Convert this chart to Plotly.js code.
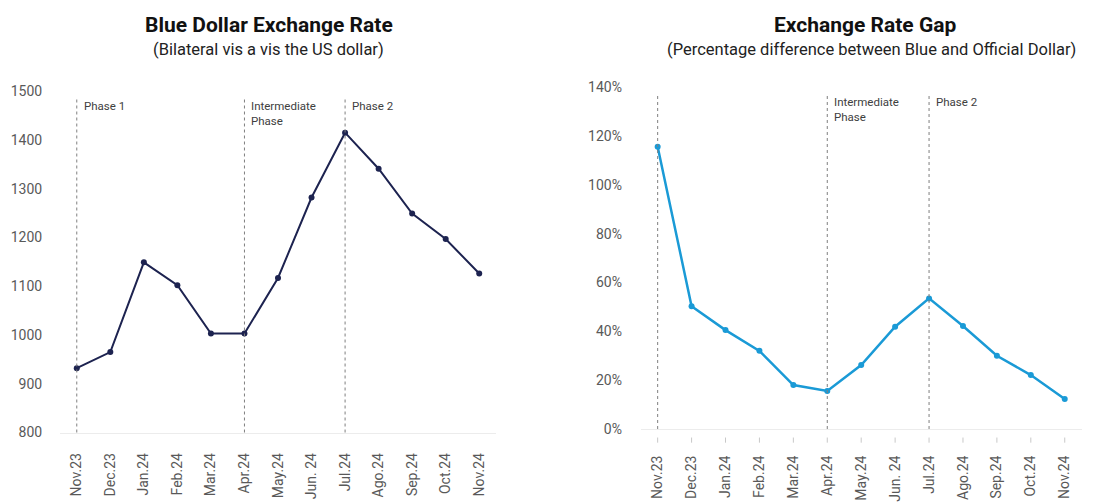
<!DOCTYPE html>
<html>
<head>
<meta charset="utf-8">
<script src="https://cdn.plot.ly/plotly-3.0.1.min.js"></script>
<style>
  html, body { margin: 0; padding: 0; background: #fff; }
  #chart { width: 1110px; height: 504px; }
</style>
</head>
<body>
<div id="chart"></div>
<script>
// Monthly categories shared by both panels
const months = ["Nov.23", "Dec.23", "Jan.24", "Feb.24", "Mar.24", "Apr.24", "May.24",
                "Jun. 24", "Jul.24", "Ago.24", "Sep.24", "Oct.24", "Nov.24"];

// Blue dollar rate (pesos per US dollar)
const blueRate = [932, 965, 1149, 1102, 1003, 1003, 1117, 1282, 1415, 1341, 1249, 1197, 1126];

// Gap between blue and official dollar (fraction)
const rateGap = [1.156, 0.503, 0.405, 0.32, 0.18, 0.156, 0.262, 0.419, 0.535, 0.422, 0.30, 0.221, 0.123];

// Phase boundaries and their labels
const leftPhases = [
  { start: "Nov.23", label: "Phase 1" },
  { start: "Apr.24", label: "Intermediate<br>Phase" },
  { start: "Jul.24", label: "Phase 2" }
];
const rightPhases = [
  { start: "Nov.23", label: "" },
  { start: "Apr.24", label: "Intermediate<br>Phase" },
  { start: "Jul.24", label: "Phase 2" }
];

const leftTicks = [800, 900, 1000, 1100, 1200, 1300, 1400, 1500];
const rightTicks = [0, 0.2, 0.4, 0.6, 0.8, 1.0, 1.2, 1.4];

const FONT = "Roboto, 'Open Sans', sans-serif";
const tickFont = { family: FONT, size: 14, color: "#595959" };

const traces = [
  {
    x: months, y: blueRate, xaxis: "x", yaxis: "y",
    type: "scatter", mode: "lines+markers",
    line: { color: "#1d2350", width: 2 },
    marker: { color: "#1d2350", size: 6 },
    hoverinfo: "x+y"
  },
  {
    x: months, y: rateGap, xaxis: "x2", yaxis: "y2",
    type: "scatter", mode: "lines+markers",
    line: { color: "#1a9ad6", width: 2.5 },
    marker: { color: "#1a9ad6", size: 6 },
    hoverinfo: "x+y"
  }
];

const shapes = [];
const annotations = [];

function addPhases(phases, xref, yref) {
  phases.forEach(p => {
    const idx = months.indexOf(p.start);
    shapes.push({
      type: "line", xref: xref, yref: yref + " domain",
      x0: idx, x1: idx, y0: 0, y1: 0.983,
      line: { color: "#7f7f7f", width: 1, dash: "dot" }
    });
    if (p.label) {
      annotations.push({
        xref: xref, yref: yref + " domain", x: idx, y: 0.983,
        xanchor: "left", yanchor: "top", xshift: 5, showarrow: false, align: "left",
        text: p.label, font: { family: FONT, size: 11.5, color: "#404040" }
      });
    }
  });
}
addPhases(leftPhases, "x", "y");
addPhases(rightPhases, "x2", "y2");

// Small tick marks under the gap panel's axis
months.forEach((m, i) => {
  shapes.push({
    type: "line", xref: "x2", yref: "y2 domain",
    x0: i, x1: i, y0: -0.025, y1: -0.04,
    line: { color: "#c8c8c8", width: 1 }
  });
});

// Panel titles
annotations.push(
  { xref: "paper", yref: "paper", x: 0.242, y: 1 - 25 / 504, xanchor: "center", yanchor: "middle",
    showarrow: false, text: "<b>Blue Dollar Exchange Rate</b>",
    font: { family: FONT, size: 21, color: "#111" } },
  { xref: "paper", yref: "paper", x: 0.242, y: 1 - 50 / 504, xanchor: "center", yanchor: "middle",
    showarrow: false, text: "(Bilateral vis a vis the US dollar)",
    font: { family: FONT, size: 16.5, color: "#222" } },
  { xref: "paper", yref: "paper", x: 0.779, y: 1 - 25 / 504, xanchor: "center", yanchor: "middle",
    showarrow: false, text: "<b>Exchange Rate Gap</b>",
    font: { family: FONT, size: 21, color: "#111" } },
  { xref: "paper", yref: "paper", x: 0.785, y: 1 - 50 / 504, xanchor: "center", yanchor: "middle",
    showarrow: false, text: "(Percentage difference between Blue and Official Dollar)",
    font: { family: FONT, size: 16.5, color: "#222" } }
);

const layout = {
  width: 1110, height: 504,
  margin: { l: 0, r: 0, t: 0, b: 0 },
  paper_bgcolor: "#fff", plot_bgcolor: "#fff",
  showlegend: false,
  xaxis: {
    domain: [60 / 1110, 496 / 1110], anchor: "y",
    type: "category", range: [-0.5, months.length - 0.5],
    tickangle: -90, tickfont: tickFont,
    showgrid: false, zeroline: false,
    showline: true, linecolor: "#ececec", linewidth: 1,
    ticks: "outside", ticklen: 14, tickcolor: "rgba(0,0,0,0)"
  },
  yaxis: {
    domain: [(504 - 432.5) / 504, (504 - 91.25) / 504], anchor: "x",
    range: [800, 1500], tickvals: leftTicks, tickfont: tickFont,
    showgrid: false, zeroline: false, showline: false,
    ticks: "outside", ticklen: 14, tickcolor: "rgba(0,0,0,0)"
  },
  xaxis2: {
    domain: [640.7 / 1110, 1081.7 / 1110], anchor: "y2",
    type: "category", range: [-0.5, months.length - 0.5],
    tickangle: -90, tickfont: tickFont,
    showgrid: false, zeroline: false,
    showline: true, linecolor: "#ececec", linewidth: 1,
    ticks: "outside", ticklen: 20, tickcolor: "rgba(0,0,0,0)"
  },
  yaxis2: {
    domain: [(504 - 429) / 504, (504 - 87.2) / 504], anchor: "x2",
    range: [0, 1.4], tickvals: rightTicks, tickformat: ".0%", tickfont: tickFont,
    showgrid: false, zeroline: false, showline: false,
    ticks: "outside", ticklen: 15, tickcolor: "rgba(0,0,0,0)"
  },
  shapes: shapes,
  annotations: annotations
};

Plotly.newPlot("chart", traces, layout, { displayModeBar: false, staticPlot: true });
</script>
</body>
</html>
